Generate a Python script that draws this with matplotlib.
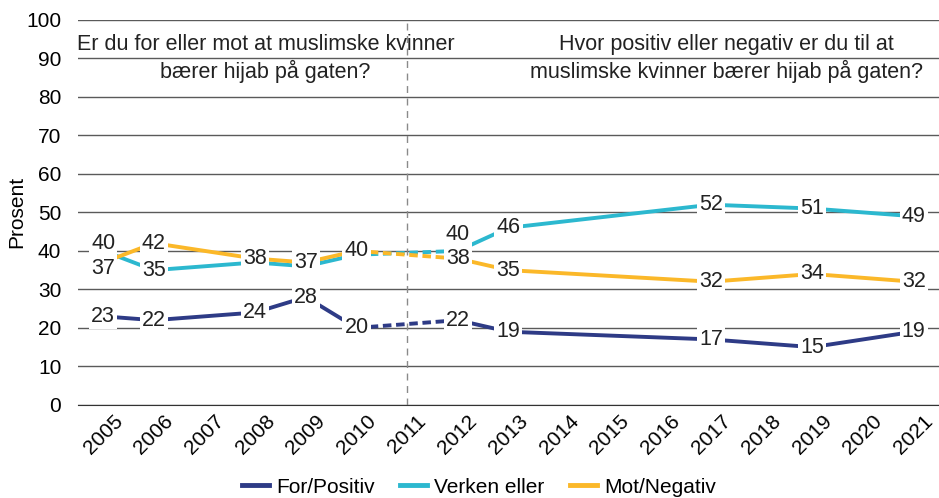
import numpy as np
import matplotlib
matplotlib.use('Agg')
import matplotlib.pyplot as plt
from matplotlib.lines import Line2D

plt.rcParams['font.family'] = ['Liberation Sans', 'DejaVu Sans']

years = list(range(2005, 2022))
nan = np.nan
# values per year (nan = no survey that year)
for_positiv = [23, 22, nan, 24, 28, 20, nan, 22, 19, nan, nan, nan, 17, nan, 15, nan, 19]
verken_eller = [40, 35, nan, 37, 36, 39, nan, 40, 46, nan, nan, nan, 52, nan, 51, nan, 49]
mot_negativ = [37, 42, nan, 38, 37, 40, nan, 38, 35, nan, nan, nan, 32, nan, 34, nan, 32]

# which points carry a visible data label (some are hidden under others in the original)
for_labels = [True] * 17
verken_labels = [True, True, False, False, False, False, False, True, True, False, False, False, True, False, True, False, True]
mot_labels = [True] * 17

series = [
    ('For/Positiv', for_positiv, for_labels, '#2e3b86'),
    ('Verken eller', verken_eller, verken_labels, '#2cb8cf'),
    ('Mot/Negativ', mot_negativ, mot_labels, '#fbb829'),
]
# label nudges in data units (year index -> offset)
nudges = {('Verken eller', 0): 2.0, ('Mot/Negativ', 0): -1.5, ('Verken eller', 7): 4.2}

fs = 15.5

fig = plt.figure(figsize=(9.39, 4.98), dpi=100)
ax = fig.add_axes([0.083, 0.187, 0.917, 0.773])

x = np.arange(len(years))
split = years.index(2011)
for name, vals, show, col in series:
    v = np.array(vals, dtype=float)
    ok = ~np.isnan(v)
    left = ok & (x < split)
    right = ok & (x > split)
    ax.plot(x[left], v[left], color=col, lw=2.8, solid_capstyle='butt', zorder=3)
    ax.plot(x[right], v[right], color=col, lw=2.8, solid_capstyle='butt', zorder=3)
    # bridge across 2011, dashed
    xl = x[left][-1]
    xr = x[right][0]
    ax.plot([xl, xr], [v[xl], v[xr]], color=col, lw=2.8, ls=(0, (2.2, 1.2)), zorder=3)
    for i in x[ok]:
        if not show[i]:
            continue
        yy = v[i] + nudges.get((name, i), 0)
        ax.text(i, yy, '%d' % v[i], ha='center', va='center', fontsize=fs, color='#222222',
                zorder=5, bbox=dict(boxstyle='square,pad=0.1', fc='white', ec='none'))

ax.axvline(split, color='#8a8a8a', lw=1, ls=(0, (5, 4)), zorder=2)

ax.set_xlim(-0.5, len(years) - 0.5)
ax.set_ylim(0, 100)
ax.set_yticks(range(0, 101, 10))
ax.set_xticks(x)
ax.set_xticklabels([str(y) for y in years], rotation=45, ha='center', fontsize=15)
ax.tick_params(axis='y', labelsize=15, length=0, pad=12)
ax.tick_params(axis='x', length=0, pad=5)
ax.grid(axis='y', color='#5a5a5a', lw=1, zorder=1)
ax.set_axisbelow(True)
for s in ['top', 'right', 'left']:
    ax.spines[s].set_visible(False)
ax.spines['bottom'].set_color('#333333')
ax.set_ylabel('Prosent', fontsize=15, labelpad=0)

ax.text(3.2, 90, 'Er du for eller mot at muslimske kvinner\nbærer hijab på gaten?',
        ha='center', va='center', fontsize=fs, color='#222222', linespacing=1.3, zorder=4)
ax.text(12.3, 90, 'Hvor positiv eller negativ er du til at\nmuslimske kvinner bærer hijab på gaten?',
        ha='center', va='center', fontsize=fs, color='#222222', linespacing=1.3, zorder=4)

handles = [Line2D([0], [0], color=c, lw=3.5) for _, _, _, c in series]
fig.legend(handles, [n for n, _, _, _ in series], loc='center', bbox_to_anchor=(0.51, 0.022),
           ncol=3, frameon=False, fontsize=15, handlelength=1.3, handletextpad=0.35,
           columnspacing=1.2)

fig.savefig('out.png', dpi=100)
